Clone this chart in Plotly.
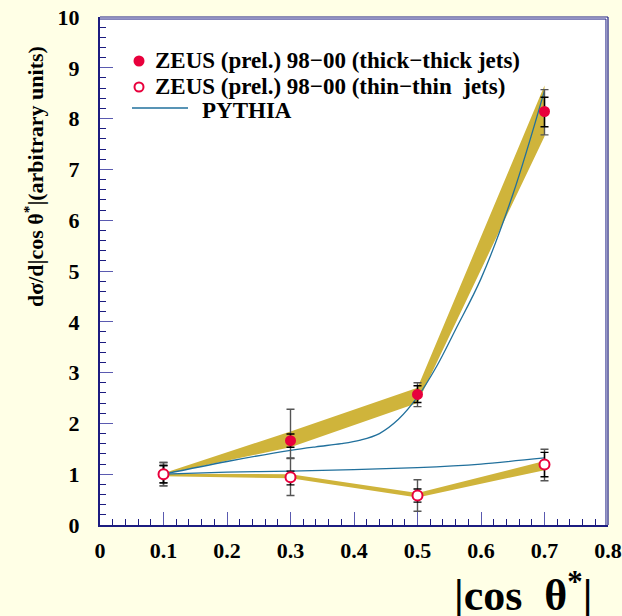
import plotly.graph_objects as go

# |cos theta*| bins
x_bins = [0.1, 0.3, 0.5, 0.7]

# thick-thick jets: data points, stat and total uncertainties
thick_y = [1.00, 1.66, 2.57, 8.14]
thick_stat_up = [0.17, 0.13, 0.17, 0.28]
thick_stat_dn = [0.17, 0.13, 0.16, 0.30]
thick_tot_up = [0.23, 0.62, 0.23, 0.43]
thick_tot_dn = [0.23, 0.34, 0.24, 0.46]
thick_band_lo = [1.00, 1.53, 2.40, 7.65]
thick_band_hi = [1.02, 1.84, 2.70, 8.65]

# thin-thin jets
thin_y = [1.00, 0.94, 0.58, 1.19]
thin_stat_up = [0.17, 0.12, 0.13, 0.24]
thin_stat_dn = [0.17, 0.15, 0.13, 0.24]
thin_tot_up = [0.23, 0.37, 0.31, 0.30]
thin_tot_dn = [0.23, 0.36, 0.31, 0.32]
thin_band_lo = [0.96, 0.92, 0.54, 1.08]
thin_band_hi = [1.01, 1.00, 0.63, 1.26]

# PYTHIA predictions
pythia_thick_x = [0.10, 0.20, 0.30, 0.34, 0.38, 0.41, 0.44, 0.47, 0.50, 0.53, 0.56, 0.60, 0.65, 0.70]
pythia_thick_y = [1.00, 1.25, 1.47, 1.54, 1.60, 1.67, 1.80, 2.08, 2.52, 3.12, 3.85, 4.85, 6.50, 8.55]
pythia_thin_x = [0.1, 0.2, 0.3, 0.4, 0.5, 0.6, 0.7]
pythia_thin_y = [1.00, 1.04, 1.06, 1.09, 1.13, 1.20, 1.32]

x_ticks = [0, 0.1, 0.2, 0.3, 0.4, 0.5, 0.6, 0.7, 0.8]
x_tick_text = ["0", "0.1", "0.2", "0.3", "0.4", "0.5", "0.6", "0.7", "0.8"]
y_ticks = list(range(0, 11))

BAND = "#CFB43B"
RED = "#E8003C"
PYTHIA_C = "#21709C"
NAVY = "#1C1C80"
TICK_C = "#5A5AB0"
BG = "#FFFFE6"
SERIF = "Liberation Serif, Times New Roman, serif"

fig = go.Figure()


def band(lo, hi):
    fig.add_trace(go.Scatter(x=x_bins, y=lo, mode="lines", line=dict(width=0, color=BAND),
                             showlegend=False, hoverinfo="skip"))
    fig.add_trace(go.Scatter(x=x_bins, y=hi, mode="lines", line=dict(width=0, color=BAND),
                             fill="tonexty", fillcolor=BAND, showlegend=False, hoverinfo="skip"))


band(thick_band_lo, thick_band_hi)
band(thin_band_lo, thin_band_hi)

fig.add_trace(go.Scatter(x=pythia_thick_x, y=pythia_thick_y, mode="lines",
                         line=dict(color=PYTHIA_C, width=1.3, shape="spline", smoothing=1.0),
                         showlegend=False))
fig.add_trace(go.Scatter(x=pythia_thin_x, y=pythia_thin_y, mode="lines",
                         line=dict(color=PYTHIA_C, width=1.3, shape="spline", smoothing=0.6),
                         showlegend=False))


def errors(y, up, dn, color):
    fig.add_trace(go.Scatter(
        x=x_bins, y=y, mode="markers", marker=dict(color="rgba(0,0,0,0)", size=1),
        error_y=dict(type="data", symmetric=False, array=up, arrayminus=dn,
                     color=color, thickness=1.4, width=4),
        showlegend=False, hoverinfo="skip"))


errors(thick_y, thick_tot_up, thick_tot_dn, "#555555")
errors(thin_y, thin_tot_up, thin_tot_dn, "#555555")
errors(thick_y, thick_stat_up, thick_stat_dn, "#000000")
errors(thin_y, thin_stat_up, thin_stat_dn, "#000000")

fig.add_trace(go.Scatter(x=x_bins, y=thick_y, mode="markers",
                         marker=dict(color=RED, size=11, line=dict(width=0)),
                         showlegend=False))
fig.add_trace(go.Scatter(x=x_bins, y=thin_y, mode="markers",
                         marker=dict(color="white", size=10, line=dict(color=RED, width=2)),
                         showlegend=False))

W, H = 622, 616
L, R, T, B = 100, 14, 17, 91
PW, PH = W - L - R, H - T - B


def px(xp):
    return (xp - L) / PW


def py(yp):
    return (H - B - yp) / PH


shapes = [
    # frame: top and right drawn as a double line
    dict(type="line", xref="paper", yref="paper", x0=0, x1=1, y0=1, y1=1,
         line=dict(color=NAVY, width=1.2)),
    dict(type="line", xref="paper", yref="paper", x0=0, x1=0.996, y0=0.996, y1=0.996,
         line=dict(color=NAVY, width=1)),
    dict(type="line", xref="paper", yref="paper", x0=1, x1=1, y0=0, y1=1,
         line=dict(color=NAVY, width=1.2)),
    dict(type="line", xref="paper", yref="paper", x0=0.996, x1=0.996, y0=0, y1=0.996,
         line=dict(color=NAVY, width=1)),
    # legend glyphs
    dict(type="circle", xref="paper", yref="paper", xsizemode="pixel", ysizemode="pixel",
         xanchor=px(139), yanchor=py(61), x0=-5.5, x1=5.5, y0=-5.5, y1=5.5,
         fillcolor=RED, line=dict(width=0)),
    dict(type="circle", xref="paper", yref="paper", xsizemode="pixel", ysizemode="pixel",
         xanchor=px(139), yanchor=py(87), x0=-4.5, x1=4.5, y0=-4.5, y1=4.5,
         fillcolor="white", line=dict(color=RED, width=2)),
    dict(type="line", xref="paper", yref="paper", x0=px(132), x1=px(188), y0=py(108), y1=py(108),
         line=dict(color=PYTHIA_C, width=1.3)),
]

legend_font = dict(family=SERIF, size=23, color="black", weight="bold")
annotations = [
    dict(text="ZEUS (prel.) 98−00 (thick−thick jets)", xref="paper", yref="paper",
         x=px(153), y=py(61), xanchor="left", yanchor="middle", showarrow=False, font=legend_font),
    dict(text="ZEUS (prel.) 98−00 (thin−thin  jets)", xref="paper", yref="paper",
         x=px(153), y=py(87), xanchor="left", yanchor="middle", showarrow=False, font=legend_font),
    dict(text="PYTHIA", xref="paper", yref="paper",
         x=px(200), y=py(110), xanchor="left", yanchor="middle", showarrow=False, font=legend_font),
    dict(text="dσ/d|cos θ<sup>*</sup>|(arbitrary units)", xref="paper", yref="paper",
         x=px(34), y=py(177), xanchor="center", yanchor="middle", textangle=-90, showarrow=False,
         font=dict(family=SERIF, size=22, color="black", weight="bold")),
    dict(text="|cos  θ<sup>*</sup>|", xref="paper", yref="paper",
         x=px(594), y=py(622), xanchor="right", yanchor="bottom", showarrow=False,
         font=dict(family=SERIF, size=44, color="black", weight="bold")),
]

fig.update_layout(
    width=W, height=H,
    margin=dict(l=L, r=R, t=T, b=B, pad=0, autoexpand=False),
    paper_bgcolor=BG, plot_bgcolor="white",
    showlegend=False,
    shapes=shapes, annotations=annotations,
    xaxis=dict(range=[0, 0.8], tickvals=x_ticks, ticktext=x_tick_text, automargin=False,
               ticks="inside", ticklen=13, tickwidth=1.2, tickcolor=TICK_C,
               minor=dict(dtick=0.02, ticks="inside", ticklen=6, tickwidth=1, tickcolor=NAVY),
               showline=True, linecolor=NAVY, linewidth=2, showgrid=False, zeroline=False,
               tickfont=dict(family=SERIF, size=22, color="black", weight="bold"),
               ticklabelstandoff=5),
    yaxis=dict(range=[0, 10], tickvals=y_ticks, automargin=False,
               ticks="inside", ticklen=13, tickwidth=1.2, tickcolor=TICK_C,
               minor=dict(dtick=0.2, ticks="inside", ticklen=6, tickwidth=1, tickcolor=NAVY),
               showline=True, linecolor=NAVY, linewidth=2, showgrid=False, zeroline=False,
               tickfont=dict(family=SERIF, size=22, color="black", weight="bold"),
               ticklabelstandoff=14),
)

fig.write_html("out.html")
